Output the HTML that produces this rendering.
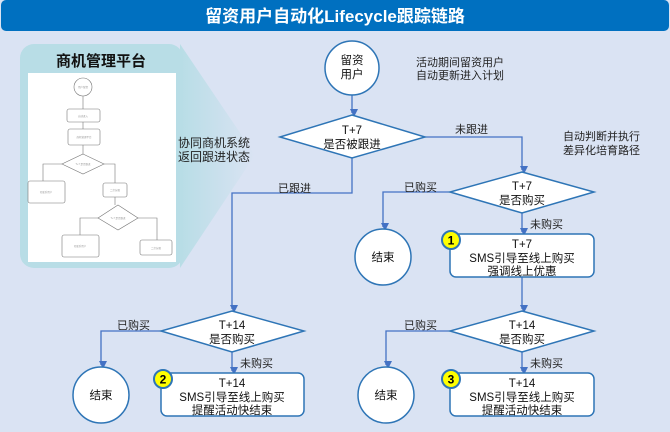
<!DOCTYPE html>
<html><head><meta charset="utf-8"><style>
html,body{margin:0;padding:0;background:#dae3f3;}
svg{display:block;font-family:"Liberation Sans","Noto Sans CJK SC",sans-serif;}
</style></head><body>
<svg width="670" height="432" viewBox="0 0 670 432" xmlns="http://www.w3.org/2000/svg">
<defs>
<linearGradient id="fade" x1="0" x2="1" y1="0" y2="0">
<stop offset="0" stop-color="#b8dde6"/><stop offset="1" stop-color="#b8dde6" stop-opacity="0"/>
</linearGradient>
<marker id="ar" markerWidth="8" markerHeight="8" refX="4" refY="6" orient="auto" markerUnits="userSpaceOnUse" viewBox="0 0 8 8">
<path d="M0,0 L8,0 L4,8 z" fill="#4472c4" transform="rotate(-90 4 4)"/>
</marker>
<marker id="am" markerWidth="6" markerHeight="6" refX="5" refY="3" orient="auto" markerUnits="userSpaceOnUse"><path d="M0,0L6,3L0,6z" fill="#666"/></marker>
</defs>
<rect width="670" height="432" fill="#dae3f3"/>
<rect x="1" y="0" width="668" height="31" rx="5" fill="#0070c0"/>
<text x="335" y="22" text-anchor="middle" font-size="17" font-weight="bold" fill="#fff">留资用户自动化Lifecycle跟踪链路</text>

<!-- left panel -->
<path d="M180,44 L255,155 L180,268 Z" fill="url(#fade)"/>
<rect x="20" y="44" width="163" height="224" rx="14" fill="#b8dde6"/>
<text x="101" y="66" text-anchor="middle" font-size="15" font-weight="bold" fill="#111">商机管理平台</text>
<rect x="28" y="73" width="148" height="189" fill="#fff"/>
<g fill="none" stroke="#777" stroke-width="0.6">
<circle cx="83" cy="87" r="9"/>
<rect x="67" y="109" width="33" height="13" rx="2"/>
<rect x="68" y="129" width="32" height="16" rx="2"/>
<path d="M83,154 L104,164 L83,174 L62,164 Z"/>
<rect x="28" y="181" width="37" height="22" rx="2"/>
<rect x="103" y="183" width="24" height="14" rx="2"/>
<path d="M118,205 L138,218 L118,230 L98,218 Z"/>
<rect x="62" y="235" width="37" height="22" rx="2"/>
<rect x="140" y="240" width="32" height="15" rx="2"/>
<path d="M83,96 V109 M83,122 V129 M83,145 V154 M62,164 H43 V181 M104,164 H115 V183 M115,197 V205 M98,218 H80 V235 M138,218 H157 V240"/>
</g>
<g font-size="2.5" fill="#999" text-anchor="middle">
<text x="83" y="88">用户留资</text><text x="83" y="117">自动进入</text><text x="84" y="138">商机管理平台</text>
<text x="83" y="165">T+7 是否跟进</text><text x="46" y="193">已联系用户</text><text x="115" y="191">二次分配</text>
<text x="118" y="219">T+7 是否跟进</text><text x="80" y="247">已联系用户</text><text x="156" y="249">二次分配</text>
</g>
<text x="178" y="147" font-size="12" fill="#222">协同商机系统</text>
<text x="178" y="161" font-size="12" fill="#222">返回跟进状态</text>

<!-- connectors -->
<g fill="none" stroke="#4472c4" stroke-width="1.3">
<path d="M352,95 V113" marker-end="url(#ar)"/>
<path d="M425,137 H522 V170" marker-end="url(#ar)"/>
<path d="M450,192 H383 V227" marker-end="url(#ar)"/>
<path d="M522,213 V232" marker-end="url(#ar)"/>
<path d="M522,277 V309" marker-end="url(#ar)"/>
<path d="M450,331 H386 V365" marker-end="url(#ar)"/>
<path d="M522,352 V371" marker-end="url(#ar)"/>
<path d="M352,158 V193 H232 V309" marker-end="url(#ar)"/>
<path d="M161,331 H101 V365" marker-end="url(#ar)"/>
<path d="M232,352 V371" marker-end="url(#ar)"/>
</g>

<!-- shapes -->
<g fill="#fff" stroke="#2e75b6" stroke-width="1.5">
<circle cx="352" cy="68" r="27"/>
<path d="M352,115 L425,137 L352,158 L280,137 Z"/>
<path d="M522,172 L594,192 L522,213 L450,192 Z"/>
<circle cx="383" cy="257" r="28"/>
<rect x="450" y="234" width="144" height="43" rx="6"/>
<path d="M522,311 L594,331 L522,352 L450,331 Z"/>
<circle cx="386" cy="395" r="28"/>
<rect x="450" y="373" width="144" height="43" rx="6"/>
<path d="M232,311 L304,331 L232,352 L161,331 Z"/>
<circle cx="101" cy="395" r="28"/>
<rect x="161" y="373" width="143" height="43" rx="6"/>
</g>

<g font-size="11.5" fill="#111" text-anchor="middle">
<text x="352" y="64">留资</text><text x="352" y="78">用户</text>
<text x="352" y="134">T+7</text><text x="352" y="148">是否被跟进</text>
<text x="522" y="190">T+7</text><text x="522" y="204">是否购买</text>
<text x="383" y="261">结束</text>
<text x="522" y="248">T+7</text><text x="522" y="262">SMS引导至线上购买</text><text x="522" y="275">强调线上优惠</text>
<text x="522" y="329">T+14</text><text x="522" y="343">是否购买</text>
<text x="386" y="399">结束</text>
<text x="522" y="387">T+14</text><text x="522" y="401">SMS引导至线上购买</text><text x="522" y="414">提醒活动快结束</text>
<text x="232" y="329">T+14</text><text x="232" y="343">是否购买</text>
<text x="101" y="399">结束</text>
<text x="232" y="387">T+14</text><text x="232" y="401">SMS引导至线上购买</text><text x="232" y="414">提醒活动快结束</text>
</g>
<g font-size="11" fill="#222">
<text x="416" y="66">活动期间留资用户</text><text x="416" y="79">自动更新进入计划</text>
<text x="563" y="140">自动判断并执行</text><text x="563" y="154">差异化培育路径</text>
<text x="455" y="133">未跟进</text>
<text x="278" y="192">已跟进</text>
<text x="404" y="191">已购买</text>
<text x="530" y="228">未购买</text>
<text x="404" y="329">已购买</text>
<text x="530" y="367">未购买</text>
<text x="117" y="329">已购买</text>
<text x="240" y="367">未购买</text>
</g>

<!-- badges -->
<g stroke="#2e75b6" stroke-width="2" fill="#ffff00">
<circle cx="451" cy="240" r="9"/><circle cx="451" cy="379" r="9"/><circle cx="163" cy="379" r="9"/>
</g>
<g font-size="12" font-weight="bold" fill="#000" text-anchor="middle">
<text x="451" y="244.5">1</text><text x="451" y="383.5">3</text><text x="163" y="383.5">2</text>
</g>
</svg>
</body></html>
